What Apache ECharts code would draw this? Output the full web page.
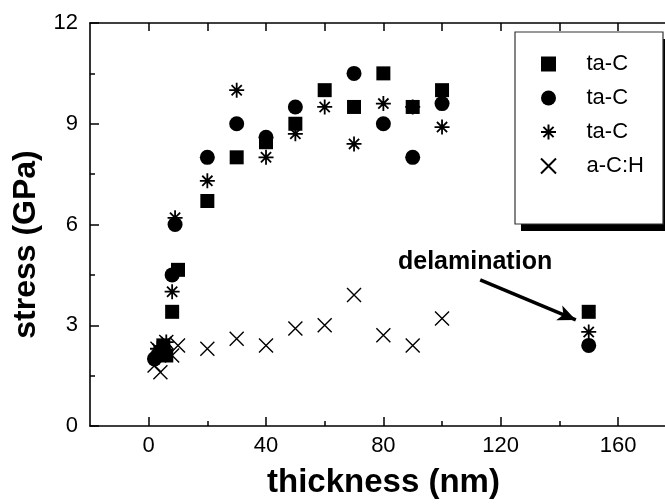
<!DOCTYPE html>
<html>
<head>
<meta charset="utf-8">
<script src="https://cdn.jsdelivr.net/npm/echarts@6/dist/echarts.min.js"></script>
<style>html,body{margin:0;padding:0;background:#fff}#c{width:665px;height:504px}</style>
</head>
<body>
<div id="c"></div>
<script>
// ---- data ----
const seriesNames = ['ta-C', 'ta-C', 'ta-C', 'a-C:H'];
const thickSq = [4, 5, 6, 8, 10, 20, 30, 40, 50, 60, 70, 80, 90, 100, 150];
const stressSq = [2.2, 2.4, 2.1, 3.4, 4.65, 6.7, 8.0, 8.45, 9.0, 10.0, 9.5, 10.5, 9.5, 10.0, 3.4];
const thickCi = [2, 3, 4, 5, 8, 9, 20, 30, 40, 50, 70, 80, 90, 100, 150];
const stressCi = [2.0, 2.1, 2.2, 2.3, 4.5, 6.0, 8.0, 9.0, 8.6, 9.5, 10.5, 9.0, 8.0, 9.6, 2.4];
const thickAs = [3, 6, 8, 9, 20, 30, 40, 50, 60, 70, 80, 90, 100, 150];
const stressAs = [2.3, 2.5, 4.0, 6.2, 7.3, 10.0, 8.0, 8.7, 9.5, 8.4, 9.6, 9.5, 8.9, 2.8];
const thickX = [2, 3, 4, 6, 8, 10, 20, 30, 40, 50, 60, 70, 80, 90, 100];
const stressX = [1.8, 2.3, 1.6, 2.5, 2.1, 2.4, 2.3, 2.6, 2.4, 2.9, 3.0, 3.9, 2.7, 2.4, 3.2];
const xMajorTicks = [0, 40, 80, 120, 160];
const xMinorTicks = [20, 60, 100, 140];
const xTopTicks = [0, 20, 40, 60, 80, 100, 120, 140, 160];
const arrowFrom = [113, 4.35];
const arrowTo = [145.6, 3.16];
const annotation = 'delamination';
const xTitle = 'thickness (nm)';
const yTitle = 'stress (GPa)';

const pair = (xs, ys) => xs.map((x, i) => [x, ys[i]]);
const FONT = '"Liberation Sans", Arial, Helvetica, sans-serif';
const SQUARE = 'path://M0,0L10,0L10,10L0,10Z';
const ASTER = 'path://M5,0L5,10M0,5L10,5M1.6,1.6L8.4,8.4M8.4,1.6L1.6,8.4';
const CROSS = 'path://M0,0L10,10M10,0L0,10';

const chart = echarts.init(document.getElementById('c'), null, {renderer: 'canvas'});
const axisLine = {show: true, onZero: false, lineStyle: {color: '#000', width: 1.6}};
const baseX = {type: 'value', min: -20, max: 176, splitLine: {show: false}};

chart.setOption({
  animation: false,
  backgroundColor: '#fff',
  grid: {left: 90, right: 0, top: 23, bottom: 75, containLabel: false},
  xAxis: [
    Object.assign({}, baseX, {
      position: 'bottom', axisLine,
      axisTick: {show: true, inside: true, length: 9, customValues: xMajorTicks, lineStyle: {color: '#000', width: 1.5}},
      axisLabel: {show: true, customValues: xMajorTicks, margin: 9, color: '#000', fontSize: 22, fontFamily: FONT},
      name: xTitle, nameLocation: 'middle', nameGap: 40,
      nameTextStyle: {fontSize: 33, fontWeight: 'bold', color: '#000', fontFamily: FONT, padding: [0, 0, 0, 12]}
    }),
    Object.assign({}, baseX, {
      position: 'bottom', axisLine: {show: false, onZero: false},
      axisTick: {show: true, inside: true, length: 5, customValues: xMinorTicks, lineStyle: {color: '#000', width: 1.5}},
      axisLabel: {show: false}
    }),
    Object.assign({}, baseX, {
      position: 'top', axisLine,
      axisTick: {show: true, inside: true, length: 8, customValues: xTopTicks, lineStyle: {color: '#000', width: 1.5}},
      axisLabel: {show: false}
    })
  ],
  yAxis: [{
    type: 'value', min: 0, max: 12, interval: 3, position: 'left',
    axisLine, splitLine: {show: false},
    axisTick: {show: true, inside: true, length: 9, lineStyle: {color: '#000', width: 1.5}},
    minorTick: {show: true, splitNumber: 2, length: 5, lineStyle: {color: '#000', width: 1.5}},
    axisLabel: {margin: 12, color: '#000', fontSize: 22, fontFamily: FONT},
    name: yTitle, nameLocation: 'middle', nameGap: 43,
    nameTextStyle: {fontSize: 32, fontWeight: 'bold', color: '#000', fontFamily: FONT, padding: [0, 40, 0, 0]}
  }],
  legend: {
    orient: 'vertical', left: 540, top: 53, padding: 0,
    itemWidth: 66, itemHeight: 15, itemGap: 12,
    textStyle: {fontSize: 22, color: '#000', fontFamily: FONT, lineHeight: 15},
    data: [
      {name: 'ta-C'}, {name: 'ta-C '}, {name: 'ta-C  '}, {name: 'a-C:H'}
    ],
    formatter: n => n.trim(),
    selectedMode: false, z: 20
  },
  graphic: [
    {type: 'rect', z: 10, shape: {x: 521, y: 39, width: 148, height: 192}, style: {fill: '#000'}},
    {type: 'rect', z: 11, shape: {x: 515, y: 32, width: 148, height: 192}, style: {fill: '#fff', stroke: '#333', lineWidth: 1.2}},
    {type: 'text', z: 12, style: {text: annotation, x: 398, y: 262, verticalAlign: 'middle', align: 'left',
      font: 'bold 25px ' + FONT, fill: '#000'}}
  ],
  series: [
    {name: 'ta-C', type: 'scatter', symbol: SQUARE, symbolSize: 14, itemStyle: {color: '#000', opacity: 1},
     data: pair(thickSq, stressSq),
     markLine: {silent: true, symbol: ['none', 'arrow'], symbolSize: [12, 18], animation: false,
       lineStyle: {color: '#000', width: 3.5, type: 'solid', opacity: 1}, label: {show: false},
       data: [[{coord: arrowFrom}, {coord: arrowTo}]]}},
    {name: 'ta-C ', type: 'scatter', symbol: 'circle', symbolSize: 15, itemStyle: {color: '#000', opacity: 1},
     data: pair(thickCi, stressCi)},
    {name: 'ta-C  ', type: 'scatter', symbol: ASTER, symbolSize: 15,
     itemStyle: {color: '#000', borderColor: '#000', borderWidth: 1.8, opacity: 1},
     data: pair(thickAs, stressAs)},
    {name: 'a-C:H', type: 'scatter', symbol: CROSS, symbolSize: 14,
     itemStyle: {color: '#000', borderColor: '#000', borderWidth: 1.4, opacity: 1},
     data: pair(thickX, stressX)}
  ]
});
</script>
</body>
</html>
